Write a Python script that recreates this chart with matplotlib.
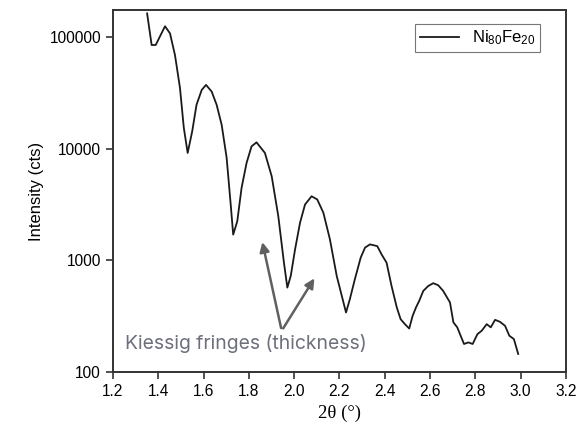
import matplotlib
matplotlib.use("Agg")
import matplotlib.pyplot as plt
import numpy as np

# 2theta (deg) and intensity (cts)
two_theta = [1.351, 1.371, 1.389, 1.430, 1.452, 1.474, 1.496, 1.513, 1.530, 1.550,
             1.569, 1.592, 1.611, 1.636, 1.658, 1.680, 1.702, 1.720, 1.731, 1.749,
             1.768, 1.790, 1.812, 1.834, 1.871, 1.901, 1.930, 1.955, 1.970, 1.985,
             2.004, 2.026, 2.048, 2.077, 2.102, 2.129, 2.158, 2.188, 2.229, 2.246,
             2.268, 2.294, 2.313, 2.335, 2.367, 2.386, 2.408, 2.430, 2.453, 2.470,
             2.489, 2.508, 2.523, 2.538, 2.552, 2.570, 2.592, 2.614, 2.636, 2.658,
             2.688, 2.703, 2.720, 2.735, 2.750, 2.769, 2.788, 2.809, 2.828, 2.850,
             2.868, 2.887, 2.909, 2.931, 2.950, 2.970, 2.989]
intensity = [163000, 84900, 85000, 125000, 108000, 69000, 35100, 15400, 9160, 14300,
             24700, 33600, 37300, 32500, 24700, 16400, 8310, 3160, 1700, 2240,
             4460, 7450, 10500, 11400, 9160, 5660, 2490, 953, 570, 724,
             1250, 2170, 3160, 3750, 3510, 2670, 1540, 724, 341, 449,
             677, 1060, 1300, 1390, 1340, 1130, 953, 589, 379, 297,
             268, 245, 318, 379, 433, 532, 589, 624, 598, 532,
             419, 278, 251, 211, 178, 184, 178, 218, 234, 268,
             251, 293, 281, 259, 211, 197, 145]

xticks = [1.2, 1.4, 1.6, 1.8, 2.0, 2.2, 2.4, 2.6, 2.8, 3.0, 3.2]
yticks = [100, 1000, 10000, 100000]

plt.rcParams['font.family'] = ['Liberation Sans', 'DejaVu Sans']
plt.rcParams['mathtext.fontset'] = 'custom'
plt.rcParams['mathtext.rm'] = 'Liberation Sans'
plt.rcParams['mathtext.it'] = 'Liberation Sans:italic'

fig = plt.figure(figsize=(5.85, 4.33), dpi=100)
ax = fig.add_axes([0.193, 0.141, 0.7745, 0.836])

ax.plot(two_theta, intensity, color='#1a1a1a', lw=1.3, label='Ni$_\\mathrm{80}$Fe$_\\mathrm{20}$')
ax.set_yscale('log')
ax.set_xlim(1.2, 3.2)
ax.set_ylim(100, 175000)
ax.set_xticks(xticks)
ax.set_xticklabels([f'{t:.1f}' for t in xticks])
ax.set_yticks(yticks)
ax.set_yticklabels([str(t) for t in yticks])
ax.yaxis.set_minor_locator(matplotlib.ticker.NullLocator())
ax.tick_params(direction='out', length=5, width=1.2, labelsize=11.2, color='#333333')
for s in ax.spines.values():
    s.set_linewidth(1.4)
    s.set_color('#333333')

ax.set_ylabel('Intensity (cts)', fontsize=12)
ax.set_xlabel('2θ (°)', fontsize=13.5, family=['Liberation Serif', 'DejaVu Serif'])

leg = ax.legend(loc='upper right', fontsize=12, fancybox=False, edgecolor='#555555',
                handlelength=2.3, borderpad=0.3, bbox_to_anchor=(0.962, 0.985))
leg.get_frame().set_linewidth(0.8)

# annotation arrows
ax.annotate('', xy=(1.857, 1540), xytext=(1.945, 234),
            arrowprops=dict(arrowstyle='-|>', color='#606060', lw=1.8, mutation_scale=14))
ax.annotate('', xy=(2.096, 724), xytext=(1.945, 234),
            arrowprops=dict(arrowstyle='-|>', color='#606060', lw=1.8, mutation_scale=14))
ax.text(1.253, 178, 'Kiessig fringes (thickness)', fontsize=13.9, color='#6e6f7c',
        va='center', ha='left', family=['Inter', 'DejaVu Sans'])

fig.savefig('out.png', dpi=100)
